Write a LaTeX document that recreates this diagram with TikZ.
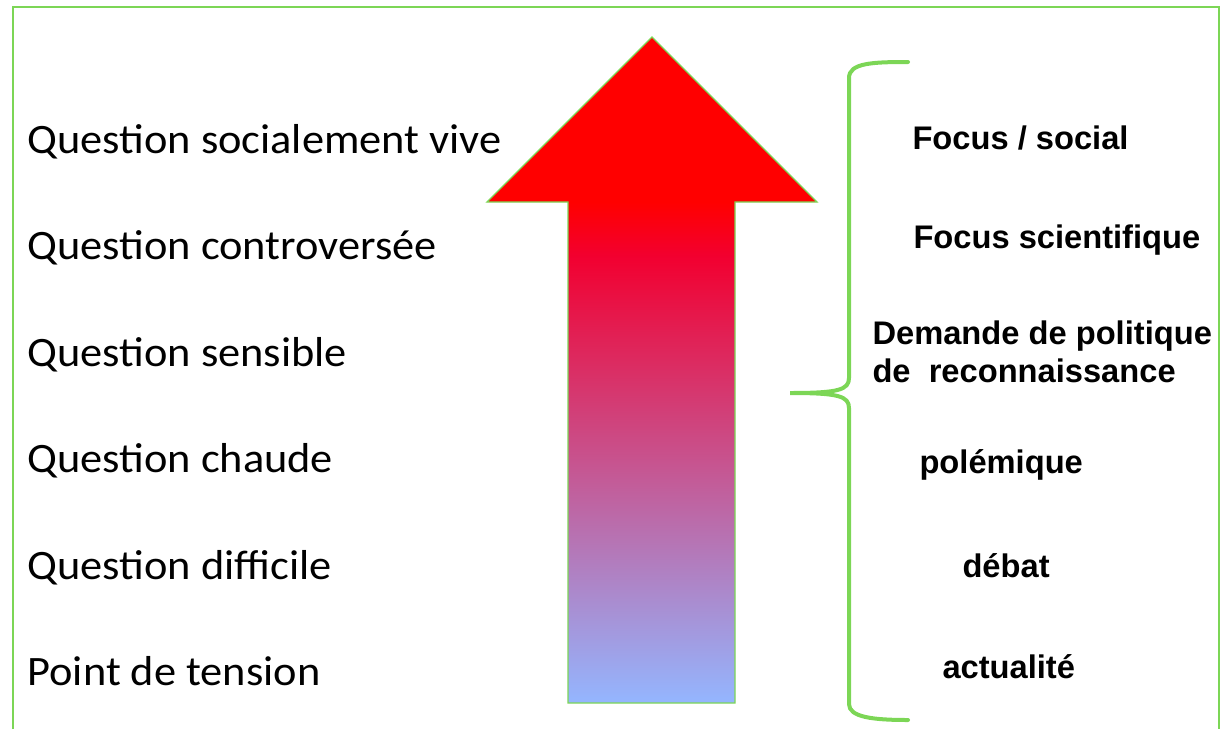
\documentclass[tikz,border=0pt]{standalone}
\usepackage{fontspec}
\setmainfont{Carlito}[FakeStretch=1.06]
\newfontfamily\arialfont{Liberation Sans}

\definecolor{framegreen}{RGB}{124,214,86}
\definecolor{tipred}{RGB}{255,0,0}
\definecolor{shaftcrimson}{RGB}{242,0,48}
\definecolor{shaftblue}{RGB}{148,182,255}

\pgfdeclareverticalshading{arrowshade}{100bp}{color(0bp)=(shaftblue); color(25bp)=(shaftblue); color(58.5bp)=(shaftcrimson); color(62.6bp)=(tipred); color(100bp)=(tipred)}

\tikzset{every picture/.style={line width=0.75pt}}
\tikzset{
  leftlabel/.style={anchor=base west,inner sep=0pt,font=\fontsize{31.4}{37}\selectfont},
  rightlabel/.style={anchor=base west,inner sep=0pt,font=\arialfont\bfseries\fontsize{24.5}{28}\selectfont}
}

\begin{document}
\begin{tikzpicture}[x=0.75pt,y=0.75pt,yscale=-1,xscale=1]
\useasboundingbox (0,0) rectangle (1222,729);

%Shape: Frame
\draw [color=framegreen,line width=1.5] (13,729) -- (13,7) -- (1219,7) -- (1219,729) ;

%Shape: Up Arrow
\draw [color=framegreen,line width=1,shading=arrowshade] (652,37) -- (817,202) -- (735,202) -- (735,703) -- (568,703) -- (568,202) -- (487,202) -- cycle ;

%Shape: Brace
\draw [color=framegreen,line width=3,line cap=round] (908,62) .. controls (872,62) and (849,63) .. (849,78) -- (849,378) .. controls (849,390) and (838,393) .. (790,393) .. controls (838,393) and (849,396) .. (849,408) -- (849,704) .. controls (849,717) and (872,720) .. (908,720) ;

% Text Node
\draw (27,153) node (qvive) [leftlabel] {Question socialement vive};
% Text Node
\draw (27,259.5) node (qcontro) [leftlabel] {Question controversée};
% Text Node
\draw (27,366) node (qsensible) [leftlabel] {Question sensible};
% Text Node
\draw (27,472.5) node (qchaude) [leftlabel] {Question chaude};
% Text Node
\draw (27,579) node (qdifficile) [leftlabel] {Question difficile};
% Text Node
\draw (27,685.5) node (ptension) [leftlabel] {Point de tension};

% Text Node
\draw (912,149) node (fsocial) [rightlabel] {Focus / social};
% Text Node
\draw (913,248) node (fscient) [rightlabel] {Focus scientifique};
% Text Node
\draw (872,382) node (dpolitique) [rightlabel,align=left] {Demande de politique\\de~ reconnaissance};
% Text Node
\draw (919,473) node (polemique) [rightlabel] {polémique};
% Text Node
\draw (962,577) node (debat) [rightlabel] {débat};
% Text Node
\draw (942,678) node (actualite) [rightlabel] {actualité};

\end{tikzpicture}
\end{document}
